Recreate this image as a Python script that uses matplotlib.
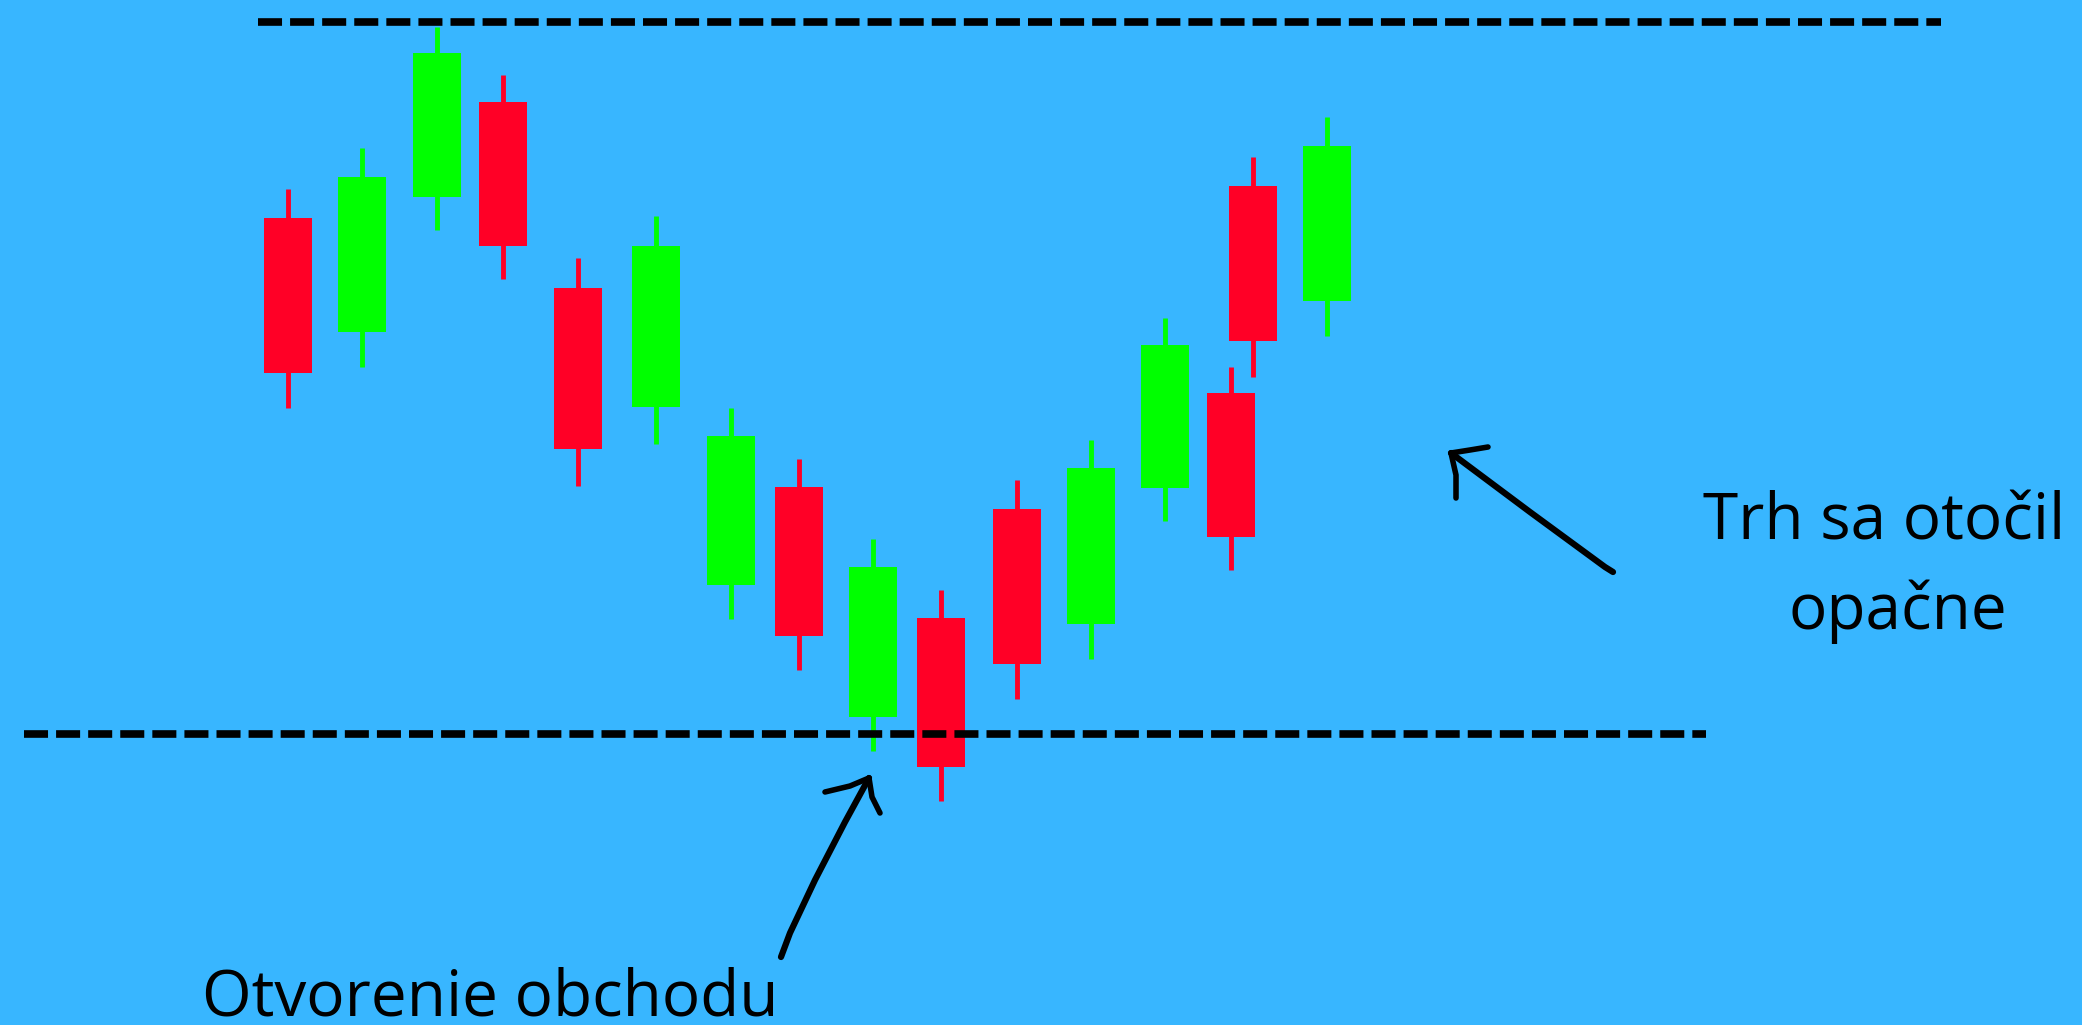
import matplotlib
matplotlib.use("Agg")
import matplotlib.pyplot as plt

# farby
POZADIE = '#38b6ff'
ZELENA = '#00ff00'
CERVENA = '#ff0026'

# sviečky (cenová os = 1025 - pixel od vrchu)
pozicie = [288, 362, 437, 503, 578, 656, 731, 799, 873, 941, 1017, 1091, 1165, 1231, 1253, 1327]
otvorenie = [807, 693, 828, 923, 737, 618, 440, 538, 308, 407, 516, 401, 537, 632, 839, 724]
zatvorenie = [652, 848, 972, 779, 576, 779, 589, 389, 458, 258, 361, 557, 680, 488, 684, 879]
maximum = [836, 877, 998, 950, 767, 809, 617, 566, 486, 435, 545, 585, 707, 658, 868, 908]
minimum = [617, 658, 795, 746, 539, 581, 406, 355, 274, 224, 326, 366, 504, 455, 648, 689]

# úrovne
odpor = 1003
podpora = 291
odpor_rozsah = (258, 1941)
podpora_rozsah = (24, 1706)

plt.rcParams['lines.scale_dashes'] = False
fig = plt.figure(figsize=(20.82, 10.25), dpi=100, facecolor=POZADIE)
ax = fig.add_axes([0, 0, 1, 1])
ax.set_facecolor(POZADIE)
ax.set_xlim(0, 2082)
ax.set_ylim(0, 1025)
ax.axis('off')

for x, o, c, h, l in zip(pozicie, otvorenie, zatvorenie, maximum, minimum):
    farba = ZELENA if c > o else CERVENA
    ax.vlines(x, l, h, color=farba, linewidth=3.5, capstyle='butt', zorder=2)
    ax.bar(x, c - o, bottom=o, width=48, color=farba, linewidth=0, zorder=3)

# čiarkované čiary
ciarky = (0, (17.3, 5.8))
ax.plot(odpor_rozsah, [odpor, odpor], color='black', linewidth=5.5,
        linestyle=ciarky, dash_capstyle='butt', zorder=4)
ax.plot(podpora_rozsah, [podpora, podpora], color='black', linewidth=5.5,
        linestyle=ciarky, dash_capstyle='butt', zorder=4)

# ručne kreslené šípky
def sipka(body, hrubka=4.5):
    xs, ys = zip(*body)
    ax.plot(xs, ys, color='black', linewidth=hrubka, solid_capstyle='round',
            solid_joinstyle='round', zorder=5)

sipka([(781, 68), (790, 92), (815, 145), (845, 203), (869, 247)])
sipka([(825, 233), (850, 239), (869, 247)], 4)
sipka([(869, 247), (872, 228), (880, 212)], 4)

sipka([(1613, 453), (1605, 458), (1530, 513), (1451, 572)])
sipka([(1451, 572), (1470, 575), (1488, 578)], 4)
sipka([(1451, 572), (1456, 550), (1456, 527)], 4)

# texty
pismo = dict(family=['Open Sans', 'DejaVu Sans'], fontsize=46, color='black')
ax.text(202, 9, 'Otvorenie obchodu', ha='left', va='baseline', **pismo)
ax.text(1884, 486, 'Trh sa otočil', ha='center', va='baseline', **pismo)
ax.text(1898, 396, 'opačne', ha='center', va='baseline', **pismo)

fig.savefig('out.png', dpi=100, facecolor=POZADIE)
plt.close(fig)
